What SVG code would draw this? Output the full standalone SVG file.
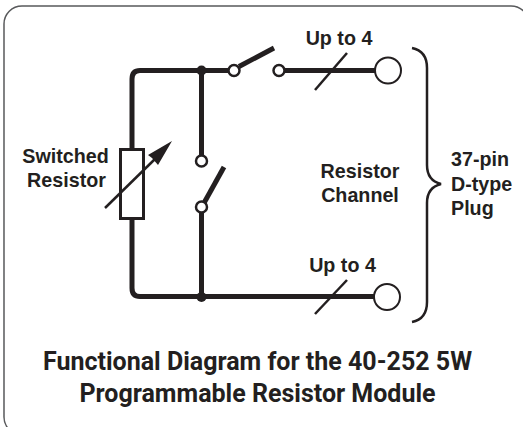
<svg xmlns="http://www.w3.org/2000/svg" width="523" height="427" viewBox="0 0 523 427">
<style>
.wire{fill:none;stroke:#231f20;stroke-width:5}
.thin{fill:none;stroke:#231f20;stroke-width:2.5}
.pin{fill:#fff;stroke:#231f20;stroke-width:2.5}
.port{fill:#fff;stroke:#231f20;stroke-width:2}
.lbl{font-family:"Liberation Sans",Arial,sans-serif;font-weight:700;font-size:19.7px;fill:#231f20;text-anchor:middle}
.ttl{font-family:Roboto,"Noto Sans",sans-serif;font-weight:700;font-size:25px;fill:#231f20;text-anchor:middle}
</style>
<rect id="frame" x="4" y="6" width="525" height="429" rx="18" fill="#fff" stroke="#58595b" stroke-width="1.500"/>
<g id="connectors">
<path class="wire" d="M132 149V79Q132 70.500 140 70.500H234"/>
<path class="wire" d="M201.500 70.500V161"/>
<path class="wire" d="M132 218V288Q132 296.500 140 296.500H380"/>
<path class="wire" d="M201.500 207V296.500"/>
<path class="wire" d="M239 66.500L274 48"/>
<path class="wire" d="M279 70.500H378"/>
<path class="wire" d="M204 203L224 167"/>
<path class="thin" d="M315 90L347 53"/>
<path class="thin" d="M315 314L347 280"/>
<path class="thin" d="M412 48C422 50 427 56 427 68V165C427 177 433 182 441 184C433 186 427 191 427 203V302C427 314 422 320 412 322"/>
</g>
<g id="junction-top"><circle cx="201.500" cy="70.500" r="5" fill="#231f20"/></g>
<g id="junction-bottom"><circle cx="201.500" cy="297" r="5" fill="#231f20"/></g>
<g id="switched-resistor">
<rect x="120.500" y="149.500" width="23" height="69" fill="#fff" stroke="#231f20" stroke-width="3"/>
<path class="thin" d="M105 208L155 159"/>
<path d="M172 141L158 165L152 158L148 155Z" fill="#231f20"/>
<text class="lbl" x="65.500" y="162.500">Switched</text>
<text class="lbl" x="66.500" y="187">Resistor</text>
</g>
<g id="switch-series">
<circle class="pin" cx="234" cy="70.500" r="5.500"/>
<circle class="pin" cx="279" cy="70.500" r="5.500"/>
</g>
<g id="switch-shunt">
<circle class="pin" cx="201.500" cy="161" r="5.500"/>
<circle class="pin" cx="201.500" cy="207" r="5.500"/>
</g>
<g id="pin-top">
<circle class="port" cx="388" cy="70.500" r="13"/>
<text class="lbl" x="339" y="45">Up to 4</text>
</g>
<g id="pin-bottom">
<circle class="port" cx="387" cy="297" r="13"/>
<text class="lbl" x="342.500" y="271.500">Up to 4</text>
</g>
<g id="channel"><text class="lbl" x="360" y="178">Resistor</text><text class="lbl" x="360" y="202">Channel</text></g>
<g id="plug"><text class="lbl" x="451" y="166" style="text-anchor:start">37-pin</text><text class="lbl" x="451" y="190.500" style="text-anchor:start">D-type</text><text class="lbl" x="451" y="215" style="text-anchor:start">Plug</text></g>
<g id="title"><text class="ttl" x="257.500" y="370">Functional Diagram for the 40-252 5W</text><text class="ttl" x="257.500" y="402">Programmable Resistor Module</text></g>
</svg>
